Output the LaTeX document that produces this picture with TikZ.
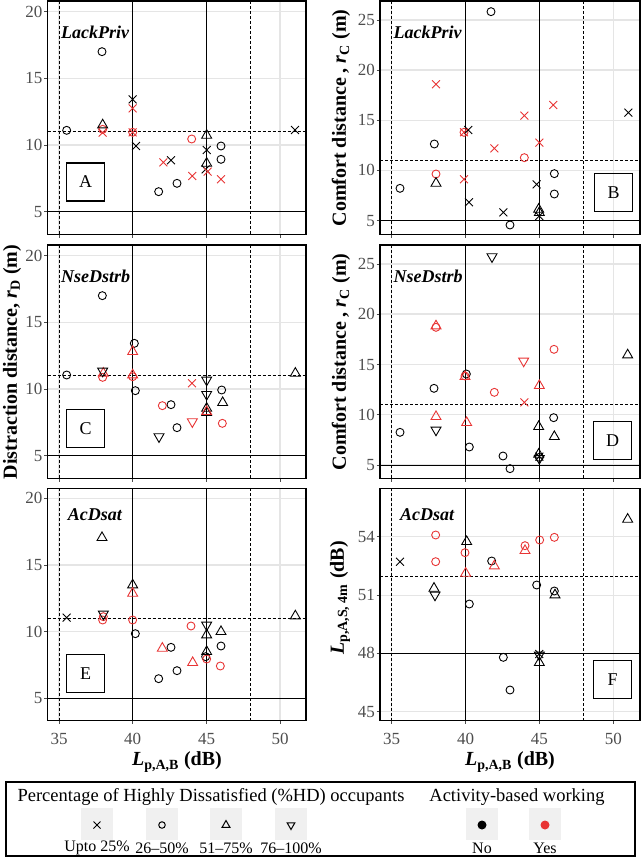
\documentclass[tikz,border=0pt]{standalone}
\usepackage{fontspec}
\setmainfont{Liberation Serif}
\usetikzlibrary{shapes.geometric,shapes.misc}
\definecolor{pr}{RGB}{232,52,52}
\definecolor{tg}{RGB}{77,77,77}
\tikzset{
 gline/.style={draw=black!10,line width=1.1pt},
 dline/.style={densely dashed,line width=0.7pt},
 sline/.style={line width=0.7pt},
 tk/.style={line width=0.7pt,draw=black!70},
 tl/.style={text=tg,font=\fontsize{17}{17}\selectfont,inner sep=1pt},
 frm/.style={line width=1.1pt},
 mo/.style={circle,draw,inner sep=0pt,minimum size=8pt,line width=0.9pt},
 mt/.style={regular polygon,regular polygon sides=3,draw,inner sep=0pt,minimum size=11.5pt,line width=0.9pt},
 md/.style={mt,shape border rotate=180},
 mx/.style={cross out,draw,inner sep=0pt,minimum size=7pt,line width=0.9pt},
 lab/.style={draw,line width=1.3pt,minimum size=38pt,font=\fontsize{18}{18}\selectfont},
 ptitle/.style={font=\fontsize{18}{18}\selectfont\bfseries\itshape,anchor=west,inner sep=0pt},
 atitle/.style={font=\fontsize{20}{20}\selectfont\bfseries},
}
\newcommand\lpanel[5]{%
 \foreach \g/\l in {#5} {\draw[gline] (143,\g) -- (918,\g); \draw[tk] (133,\g)--(143,\g); \node[tl,anchor=east] at (131,\g) {\l};}
 \foreach \v in {177,398,620,840} {\draw[gline] (\v,#1) -- (\v,#2); \draw[tk] (\v,#2) -- (\v,#2+10);}
 \draw[dline] (177,#1)--(177,#2) (752,#1)--(752,#2);
 \draw[sline] (398,#1)--(398,#2) (620,#1)--(620,#2);
 \draw[dline] (143,#3)--(918,#3);
 \draw[sline] (143,#4)--(918,#4);
 \draw[frm] (143,#1) rectangle (918,#2);}
\newcommand\rpanel[5]{%
 \foreach \g/\l in {#5} {\draw[gline] (210,\g) -- (990,\g); \draw[tk] (200,\g)--(210,\g); \node[tl,anchor=east] at (198,\g) {\l};}
 \foreach \v in {245,467,688,910} {\draw[gline] (\v,#1) -- (\v,#2); \draw[tk] (\v,#2) -- (\v,#2+10);}
 \draw[dline] (245,#1)--(245,#2) (820,#1)--(820,#2);
 \draw[sline] (467,#1)--(467,#2) (688,#1)--(688,#2);
 \draw[dline] (210,#3)--(990,#3);
 \draw[sline] (210,#4)--(990,#4);
 \draw[frm] (210,#1) rectangle (990,#2);}
\begin{document}
\begin{tikzpicture}[x=1pt,y=-1pt]
\useasboundingbox (0,0) rectangle (640,858);
% ---------- A
\begin{scope}[shift={(0,0)},scale=1/3]
\lpanel{3}{703}{395}{635}{35/20,235/15,435/10,635/5}
\node[ptitle] (tA) at (183,97) {LackPriv};
\node[lab] (bA) at (257,546) {A};
\foreach \p in {{200,391},{306,155},{476,575},{531,550},{663,438},{663,478}} \node[mo] at (\p) {};
\foreach \p in {{308,388},{398,397},{575,417}} \node[mo,pr] at (\p) {};
\foreach \p in {{308,375},{620,406},{620,490}} \node[mt] at (\p) {};
\foreach \p in {{398,298},{408,438},{513,481},{620,450},{617,508},{885,390}} \node[mx] at (\p) {};
\foreach \p in {{308,398},{398,325},{398,397},{490,487},{577,528},{623,515},{663,538}} \node[mx,pr] at (\p) {};
\end{scope}
% ---------- B
\begin{scope}[shift={(310,0)},scale=1/3]
\rpanel{3}{703}{482}{662}{60/25,210/20,361/15,511/10,662/5}
\node[ptitle] (tB) at (250,97) {LackPriv};
\node[lab] (bB) at (911,577) {B};
\foreach \p in {{270,565},{373,432},{543,35},{600,675},{733,521},{733,582}} \node[mo] at (\p) {};
\foreach \p in {{378,522},{462,397},{643,473}} \node[mo,pr] at (\p) {};
\foreach \p in {{378,550},{686,628},{688,638}} \node[mt] at (\p) {};
\foreach \p in {{475,390},{477,607},{580,637},{680,553},{688,648},{955,338}} \node[mx] at (\p) {};
\foreach \p in {{378,253},{462,397},{462,538},{553,445},{643,347},{688,428},{730,315}} \node[mx,pr] at (\p) {};
\end{scope}
% ---------- C
\begin{scope}[shift={(0,240)},scale=1/3]
\lpanel{15}{715}{407}{647}{47/20,247/15,447/10,647/5}
\node[ptitle] (tC) at (183,110) {NseDstrb};
\node[lab] (bC) at (257,565) {C};
\foreach \p in {{200,405},{307,167},{403,310},{406,452},{513,494},{531,563},{665,450}} \node[mo] at (\p) {};
\foreach \p in {{308,412},{398,410},{487,497},{667,550}} \node[mo,pr] at (\p) {};
\foreach \p in {{620,505},{620,518},{668,488},{886,400}} \node[mt] at (\p) {};
\foreach \p in {{310,400},{398,335},{398,405},{620,515}} \node[mt,pr] at (\p) {};
\foreach \p in {{308,393},{477,590},{620,420},{620,463}} \node[md] at (\p) {};
\foreach \p in {{577,545}} \node[md,pr] at (\p) {};
\foreach \p in {{576,430}} \node[mx,pr] at (\p) {};
\end{scope}
% ---------- D
\begin{scope}[shift={(310,240)},scale=1/3]
\rpanel{15}{715}{494}{675}{72/25,222/20,374/15,524/10,675/5}
\node[ptitle] (tD) at (250,110) {NseDstrb};
\node[lab] (bD) at (908,601) {D};
\foreach \p in {{270,577},{372,445},{469,402},{478,621},{579,648},{600,686},{731,533},{688,652}} \node[mo] at (\p) {};
\foreach \p in {{378,262},{465,408},{553,457},{732,328}} \node[mo,pr] at (\p) {};
\foreach \p in {{686,560},{733,590},{953,345},{686,643}} \node[mt] at (\p) {};
\foreach \p in {{378,258},{378,530},{465,410},{470,548},{688,437}} \node[mt,pr] at (\p) {};
\foreach \p in {{378,570},{546,50},{688,655}} \node[md] at (\p) {};
\foreach \p in {{641,363}} \node[md,pr] at (\p) {};
\foreach \p in {{688,650}} \node[mx] at (\p) {};
\foreach \p in {{643,487}} \node[mx,pr] at (\p) {};
\end{scope}
% ---------- E
\begin{scope}[shift={(0,480)},scale=1/3]
\lpanel{25}{722}{415}{655}{55/20,255/15,455/10,655/5}
\node[ptitle] (tE) at (203,105) {AcDsat};
\node[lab] (bE) at (257,581) {E};
\foreach \p in {{406,461},{513,502},{476,596},{531,572},{617,530},{663,498}} \node[mo] at (\p) {};
\foreach \p in {{308,420},{310,410},{398,420},{573,438},{620,537},{661,558}} \node[mo,pr] at (\p) {};
\foreach \p in {{306,173},{398,315},{620,465},{620,515},{663,455},{886,408}} \node[mt] at (\p) {};
\foreach \p in {{398,340},{487,505},{578,548}} \node[mt,pr] at (\p) {};
\foreach \p in {{310,402},{620,435}} \node[md] at (\p) {};
\foreach \p in {{200,413}} \node[mx] at (\p) {};
\end{scope}
% ---------- F
\begin{scope}[shift={(310,480)},scale=1/3]
\rpanel{25}{722}{288}{520}{170/54,346/51,520/48,695/45}
\node[ptitle] (tF) at (270,105) {AcDsat};
\node[lab] (bF) at (908,599) {F};
\foreach \p in {{478,372},{545,243},{580,532},{600,630},{680,315},{733,333}} \node[mo] at (\p) {};
\foreach \p in {{377,165},{377,245},{465,218},{645,197},{689,180},{733,172}} \node[mo,pr] at (\p) {};
\foreach \p in {{372,325},{470,185},{688,548},{735,345},{953,118}} \node[mt] at (\p) {};
\foreach \p in {{467,280},{553,258},{645,212}} \node[mt,pr] at (\p) {};
\foreach \p in {{375,345},{688,525}} \node[md] at (\p) {};
\foreach \p in {{270,245},{688,522}} \node[mx] at (\p) {};
\end{scope}
% x tick labels
\foreach \v/\l in {59/35,132.7/40,206.7/45,280/50} \node[tl] (xl\l) at (\v,739) {\l};
\foreach \v/\l in {391.7/35,465.7/40,539.3/45,613.3/50} \node[tl] (xr\l) at (\v,739) {\l};
% axis titles
\node[atitle] (xtL) at (177,762) {\textit{L}\textsubscript{p,A,B} (dB)};
\node[atitle] (xtR) at (510,762) {\textit{L}\textsubscript{p,A,B} (dB)};
\node[atitle,rotate=90] (ytC) at (12,362) {Distraction distance, \textit{r}\textsubscript{D} (m)};
\node[atitle,rotate=90] (ytB) at (341,118) {Comfort distance , \textit{r}\textsubscript{C} (m)};
\node[atitle,rotate=90] (ytD) at (341,362) {Comfort distance , \textit{r}\textsubscript{C} (m)};
\node[atitle,rotate=90] (ytF) at (340,598) {\textit{L}\textsubscript{p,A,S, 4m} (dB)};
% legend
\draw[line width=1.3pt] (6,782) rectangle (635,856);
\node[font=\fontsize{18.5}{18.5}\selectfont] (lg1) at (211,797) {Percentage of Highly Dissatisfied (\%HD) occupants};
\node[font=\fontsize{18.5}{18.5}\selectfont] (lg2) at (517,797) {Activity-based working};
\foreach \v in {97,162,226,291,482,545} \fill[black!6] (\v-16,808) rectangle (\v+16,840);
\node[cross out,draw,inner sep=0pt,minimum size=6pt,line width=1pt] (k1) at (97,825) {};
\node[circle,draw,inner sep=0pt,minimum size=6.5pt,line width=1pt] (k2) at (162,825) {};
\node[regular polygon,regular polygon sides=3,draw,inner sep=0pt,minimum size=9pt,line width=1pt] (k3) at (226,825) {};
\node[regular polygon,regular polygon sides=3,shape border rotate=180,draw,inner sep=0pt,minimum size=9pt,line width=1pt] (k4) at (291,825) {};
\node[circle,fill=black,inner sep=0pt,minimum size=9pt] (k5) at (482,825) {};
\node[circle,fill=pr,inner sep=0pt,minimum size=9pt] (k6) at (545,825) {};
\foreach \v/\t in {97/Upto 25\%,162/26--50\%,226/51--75\%,291/76--100\%,482/No,545/Yes}
 \node[font=\fontsize{16}{16}\selectfont] at (\v,848) {\t};
\end{tikzpicture}
\end{document}
